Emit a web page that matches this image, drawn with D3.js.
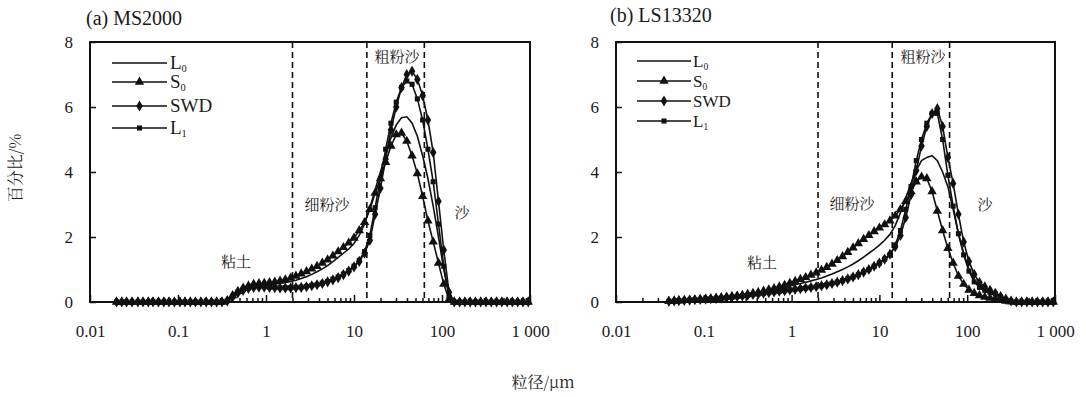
<!DOCTYPE html>
<html>
<head>
<meta charset="utf-8">
<script src="https://cdn.jsdelivr.net/npm/d3@7"></script>
<style>
  body { margin: 0; background: #fff; }
  svg text { font-family: "Liberation Serif", "Times New Roman", serif; fill: #1a1a1a; }
  svg text.cjk { font-family: "Noto Serif CJK SC", "Noto Sans CJK SC", sans-serif; }
</style>
</head>
<body>
<svg id="chart" width="1086" height="397"></svg>
<script>
// particle size classes (um)
const sizesA = [0.020, 0.023, 0.026, 0.030, 0.035, 0.040, 0.046, 0.052, 0.060, 0.069,
  0.079, 0.091, 0.105, 0.120, 0.138, 0.158, 0.182, 0.209, 0.240, 0.275,
  0.316, 0.363, 0.417, 0.479, 0.550, 0.631, 0.724, 0.832, 0.955, 1.096,
  1.259, 1.445, 1.660, 1.905, 2.188, 2.512, 2.884, 3.311, 3.802, 4.365,
  5.012, 5.754, 6.607, 7.586, 8.710, 10.00, 11.48, 13.18, 15.14, 17.38,
  19.95, 22.91, 26.30, 30.20, 34.67, 39.81, 45.71, 52.48, 60.26, 69.18,
  79.43, 91.20, 104.7, 120.2, 138.0, 158.5, 182.0, 208.9, 239.9, 275.4,
  316.2, 363.1, 416.9, 478.6, 549.5, 631.0, 724.4, 831.8, 955.0];

// (a) MS2000, percent per class
const l0A = [0, 0, 0, 0, 0, 0, 0, 0, 0, 0, 0, 0, 0, 0, 0, 0, 0, 0, 0, 0, 0,
  0.05, 0.2, 0.32, 0.41, 0.48, 0.52, 0.54, 0.55, 0.56, 0.57, 0.58, 0.6, 0.63, 0.67, 0.72,
  0.78, 0.85, 0.93, 1.02, 1.12, 1.24, 1.37, 1.5, 1.63, 1.8, 2.05, 2.4, 2.9, 3.45, 4.0,
  4.55, 5.05, 5.45, 5.67, 5.7, 5.5, 5.1, 4.5, 3.8, 2.95, 2.0, 1.0, 0.2,
  0, 0, 0, 0, 0, 0, 0, 0, 0, 0, 0, 0, 0, 0, 0];
const s0A = [0, 0, 0, 0, 0, 0, 0, 0, 0, 0, 0, 0, 0, 0, 0, 0, 0, 0, 0, 0, 0,
  0.05, 0.2, 0.33, 0.43, 0.5, 0.55, 0.57, 0.58, 0.6, 0.62, 0.65, 0.69, 0.74, 0.8, 0.87,
  0.94, 1.02, 1.1, 1.2, 1.3, 1.42, 1.55, 1.68, 1.82, 1.97, 2.2, 2.45, 2.85, 3.35, 3.8,
  4.3, 4.8, 5.15, 5.2, 4.95, 4.5, 3.95, 3.25, 2.5, 1.85, 1.2, 0.55, 0.08,
  0, 0, 0, 0, 0, 0, 0, 0, 0, 0, 0, 0, 0, 0, 0];
const swdA = [0, 0, 0, 0, 0, 0, 0, 0, 0, 0, 0, 0, 0, 0, 0, 0, 0, 0, 0, 0, 0,
  0.03, 0.15, 0.28, 0.36, 0.42, 0.45, 0.46, 0.46, 0.45, 0.44, 0.43, 0.43, 0.43, 0.44, 0.45,
  0.47, 0.5, 0.53, 0.57, 0.62, 0.68, 0.75, 0.84, 0.95, 1.08, 1.25, 1.5, 1.9, 2.7, 3.5,
  4.4, 5.3, 6.0, 6.6, 7.0, 7.1, 6.85, 6.35, 5.6, 4.6, 3.1, 1.6, 0.3,
  0, 0, 0, 0, 0, 0, 0, 0, 0, 0, 0, 0, 0, 0, 0];
const l1A = [0, 0, 0, 0, 0, 0, 0, 0, 0, 0, 0, 0, 0, 0, 0, 0, 0, 0, 0, 0, 0,
  0.04, 0.17, 0.3, 0.38, 0.43, 0.46, 0.47, 0.47, 0.46, 0.45, 0.44, 0.44, 0.44, 0.45, 0.46,
  0.48, 0.51, 0.54, 0.58, 0.63, 0.7, 0.77, 0.86, 0.97, 1.1, 1.28, 1.55, 2.05, 2.9, 3.8,
  4.7, 5.5, 6.15, 6.6, 6.8, 6.7, 6.25, 5.6, 4.7, 3.7, 2.4, 1.1, 0.15,
  0, 0, 0, 0, 0, 0, 0, 0, 0, 0, 0, 0, 0, 0, 0];

// (b) LS13320
const sizesB = [0.040, 0.046, 0.052, 0.060, 0.069,
  0.079, 0.091, 0.105, 0.120, 0.138, 0.158, 0.182, 0.209, 0.240, 0.275,
  0.316, 0.363, 0.417, 0.479, 0.550, 0.631, 0.724, 0.832, 0.955, 1.096,
  1.259, 1.445, 1.660, 1.905, 2.188, 2.512, 2.884, 3.311, 3.802, 4.365,
  5.012, 5.754, 6.607, 7.586, 8.710, 10.00, 11.48, 13.18, 15.14, 17.38,
  19.95, 22.91, 26.30, 30.20, 34.67, 39.81, 45.71, 52.48, 60.26, 69.18,
  79.43, 91.20, 104.7, 120.2, 138.0, 158.5, 182.0, 208.9, 239.9, 275.4,
  316.2, 363.1, 416.9, 478.6, 549.5, 631.0, 724.4, 831.8, 955.0];
const l0B = [0.02, 0.03, 0.04, 0.05, 0.06, 0.07, 0.08, 0.09, 0.1, 0.11,
  0.13, 0.14, 0.16, 0.18, 0.2, 0.22, 0.25, 0.28, 0.31, 0.34,
  0.37, 0.41, 0.45, 0.49, 0.53, 0.57, 0.61, 0.65, 0.69, 0.74,
  0.8, 0.86, 0.93, 1.0, 1.08, 1.17, 1.27, 1.38, 1.5, 1.62,
  1.75, 1.9, 2.08, 2.35, 2.75, 3.2, 3.65, 4.05, 4.35, 4.45,
  4.5, 4.35, 4.0, 3.55, 2.85, 2.1, 1.5, 1.0, 0.65, 0.45,
  0.33, 0.26, 0.22, 0.15, 0.07, 0.02, 0, 0, 0, 0, 0, 0, 0, 0];
const s0B = [0.02, 0.03, 0.04, 0.05, 0.06, 0.07, 0.08, 0.09, 0.1, 0.12,
  0.13, 0.15, 0.17, 0.19, 0.21, 0.24, 0.27, 0.3, 0.34, 0.38,
  0.42, 0.47, 0.52, 0.58, 0.64, 0.7, 0.76, 0.83, 0.9, 0.98,
  1.07, 1.17, 1.28, 1.4, 1.53, 1.67, 1.8, 1.93, 2.05, 2.17,
  2.28, 2.38, 2.5, 2.65, 2.85, 3.1, 3.4, 3.7, 3.85, 3.8,
  3.4, 2.8, 2.2, 1.65, 1.2, 0.8, 0.55, 0.37, 0.27, 0.2,
  0.15, 0.12, 0.1, 0.06, 0.03, 0.01, 0, 0, 0, 0, 0, 0, 0, 0];
const swdB = [0.02, 0.03, 0.04, 0.05, 0.06, 0.07, 0.08, 0.09, 0.1, 0.11,
  0.12, 0.14, 0.15, 0.17, 0.19, 0.21, 0.23, 0.25, 0.27, 0.29,
  0.31, 0.33, 0.35, 0.37, 0.39, 0.41, 0.43, 0.45, 0.47, 0.5,
  0.53, 0.57, 0.61, 0.66, 0.71, 0.77, 0.84, 0.92, 1.0, 1.1,
  1.2, 1.32, 1.47, 1.7, 2.05, 2.6, 3.3, 4.05, 4.8, 5.4,
  5.8, 5.95, 5.4, 4.45, 3.65, 2.7, 1.85, 1.25, 0.85, 0.6,
  0.47, 0.36, 0.27, 0.17, 0.09, 0.03, 0, 0, 0, 0, 0, 0, 0, 0];
const l1B = [0.02, 0.03, 0.04, 0.05, 0.06, 0.07, 0.08, 0.09, 0.1, 0.11,
  0.12, 0.14, 0.15, 0.17, 0.19, 0.21, 0.23, 0.25, 0.27, 0.29,
  0.31, 0.33, 0.35, 0.37, 0.39, 0.41, 0.43, 0.45, 0.47, 0.5,
  0.53, 0.57, 0.61, 0.66, 0.71, 0.77, 0.84, 0.92, 1.0, 1.1,
  1.2, 1.32, 1.45, 1.75, 2.2, 2.85, 3.55, 4.35, 5.0, 5.5,
  5.8, 5.8, 5.0, 3.9, 2.95, 2.1, 1.45, 0.95, 0.62, 0.45,
  0.36, 0.3, 0.25, 0.16, 0.07, 0.02, 0, 0, 0, 0, 0, 0, 0, 0];

const seriesNames = ['L', 'S', 'SWD', 'L'];
const seriesSubs = ['0', '0', '', '1'];
const yTicks = [0, 2, 4, 6, 8];
const xTicks = [0.01, 0.1, 1, 10, 100, 1000];
const xTickLabels = ['0.01', '0.1', '1', '10', '100', '1 000'];
const xMinor = [2, 3, 4, 5, 6, 7, 8, 9];
const boundaries = [2, 14, 63];
const zoneNames = ['粘土', '细粉沙', '粗粉沙', '沙'];

const serif = '"Liberation Serif", "Times New Roman", serif';
const svg = d3.select('#chart');
const plotTop = 42, plotBottom = 302;

const panels = [
  {
    title: '(a) MS2000', titleX: 86, titleY: 25, x0: 90, x1: 530,
    sizes: sizesA, data: [l0A, s0A, swdA, l1A],
    legend: { x0: 112, x1: 167, tx: 170, rows: [63, 82, 106, 128], fs: 19 },
    zones: [[236, 262], [327, 205], [397, 57], [462, 213]]
  },
  {
    title: '(b) LS13320', titleX: 610, titleY: 22, x0: 616, x1: 1055,
    sizes: sizesB, data: [l0B, s0B, swdB, l1B],
    legend: { x0: 637, x1: 691, tx: 693, rows: [61, 81, 101, 121], fs: 17 },
    zones: [[762, 263], [852, 204], [923, 57], [985, 205]]
  }
];

const markers = [null, d3.symbolTriangle, d3.symbolDiamond, d3.symbolSquare];
const markerSize = [0, 38, 36, 26];

function styleAxis(a) {
  a.attr('font-family', serif).style('font-family', serif);
  a.select('.domain').remove();
  a.selectAll('line').attr('stroke', '#111').attr('stroke-width', 1.5);
  a.selectAll('text').attr('font-size', 17).style('font-family', serif).attr('fill', '#1a1a1a');
}

function drawPanel(p) {
  const x = d3.scaleLog().domain([0.01, 1000]).range([p.x0, p.x1]);
  const y = d3.scaleLinear().domain([0, 8]).range([plotBottom, plotTop]);
  const g = svg.append('g');

  // minor ticks
  const minors = [];
  xTicks.slice(0, -1).forEach(d => xMinor.forEach(m => minors.push(d * m)));
  g.append('g')
    .attr('transform', `translate(0,${plotBottom})`)
    .call(d3.axisBottom(x).tickValues(minors).tickSize(-4).tickFormat(''))
    .call(styleAxis);

  g.append('g')
    .attr('transform', `translate(0,${plotBottom})`)
    .call(d3.axisBottom(x).tickValues(xTicks).tickSize(-7).tickPadding(23)
      .tickFormat((d, i) => xTickLabels[i]))
    .call(styleAxis);

  g.append('g')
    .attr('transform', `translate(${p.x0},0)`)
    .call(d3.axisLeft(y).tickValues(yTicks).tickSize(-6).tickPadding(17))
    .call(styleAxis);

  // boundary lines
  g.selectAll('.bound').data(boundaries).join('line')
    .attr('x1', d => x(d)).attr('x2', d => x(d))
    .attr('y1', plotTop).attr('y2', plotBottom)
    .attr('stroke', '#111').attr('stroke-width', 1.6)
    .attr('stroke-dasharray', '6,4');

  // frame
  g.append('rect')
    .attr('x', p.x0).attr('y', plotTop)
    .attr('width', p.x1 - p.x0).attr('height', plotBottom - plotTop)
    .attr('fill', 'none').attr('stroke', '#111').attr('stroke-width', 2);

  const line = d3.line()
    .x((d, i) => x(p.sizes[i]))
    .y(d => y(d));

  p.data.forEach((vals, k) => {
    g.append('path')
      .datum(vals)
      .attr('fill', 'none')
      .attr('stroke', '#111')
      .attr('stroke-width', 1.6)
      .attr('d', line);
    if (markers[k]) {
      g.append('g').selectAll('path').data(vals).join('path')
        .attr('transform', (d, i) => `translate(${x(p.sizes[i])},${y(d)})`)
        .attr('d', d3.symbol().type(markers[k]).size(markerSize[k]))
        .attr('fill', '#111');
    }
  });

  // zone labels
  g.selectAll('.zone').data(zoneNames).join('text')
    .attr('class', 'cjk')
    .attr('x', (d, i) => p.zones[i][0])
    .attr('y', (d, i) => p.zones[i][1])
    .attr('dy', '0.35em')
    .attr('text-anchor', 'middle')
    .attr('font-size', 15)
    .text(d => d);

  // legend
  const lg = p.legend;
  seriesNames.forEach((name, k) => {
    const ry = lg.rows[k];
    g.append('line')
      .attr('x1', lg.x0).attr('x2', lg.x1).attr('y1', ry).attr('y2', ry)
      .attr('stroke', '#111').attr('stroke-width', 1.5);
    if (markers[k]) {
      g.append('path')
        .attr('transform', `translate(${(lg.x0 + lg.x1) / 2},${ry})`)
        .attr('d', d3.symbol().type(markers[k]).size(markerSize[k]))
        .attr('fill', '#111');
    }
    const t = g.append('text')
      .attr('x', lg.tx).attr('y', ry + lg.fs * 0.33)
      .attr('font-size', lg.fs)
      .text(name);
    if (seriesSubs[k]) {
      t.append('tspan').attr('font-size', lg.fs * 0.55).attr('dy', 3).text(seriesSubs[k]);
    }
  });

  svg.append('text')
    .attr('x', p.titleX).attr('y', p.titleY)
    .attr('font-size', 20)
    .text(p.title);
}

panels.forEach(drawPanel);

svg.append('text')
  .attr('class', 'cjk')
  .attr('transform', 'translate(21,168) rotate(-90)')
  .attr('text-anchor', 'middle')
  .attr('font-size', 16)
  .text('百分比/%');

svg.append('text')
  .attr('class', 'cjk')
  .attr('x', 543).attr('y', 388)
  .attr('text-anchor', 'middle')
  .attr('font-size', 16)
  .text('粒径/μm');
</script>
</body>
</html>
